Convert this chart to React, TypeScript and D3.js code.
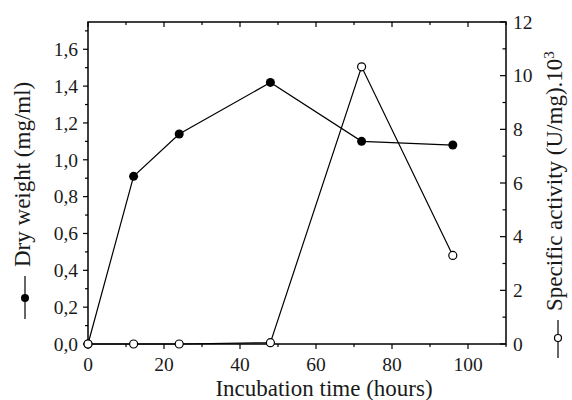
import React from 'react';
import * as d3 from 'd3';

// incubation time (hours)
const hours = [0, 12, 24, 48, 72, 96];
// dry weight (mg/ml), filled markers, left axis
const dryWeight = [0, 0.91, 1.14, 1.42, 1.1, 1.08];
// specific activity (U/mg).10^3, open markers, right axis
const activity = [0, 0, 0, 0.05, 10.33, 3.3];

const xMajor = [0, 20, 40, 60, 80, 100];
const xMinor = [10, 30, 50, 70, 90, 110];
const leftMajor = [0, 0.2, 0.4, 0.6, 0.8, 1.0, 1.2, 1.4, 1.6];
const leftMinor = [0.1, 0.3, 0.5, 0.7, 0.9, 1.1, 1.3, 1.5, 1.7];
const rightMajor = [0, 2, 4, 6, 8, 10, 12];
const rightMinor = [1, 3, 5, 7, 9, 11];

const W = 572;
const H = 400;
const m = { left: 88, right: 66, top: 22, bottom: 56 };

const font = "'Liberation Serif', 'Times New Roman', serif";

export default function App() {
  const x = d3.scaleLinear().domain([0, 110]).range([m.left, W - m.right]);
  const yL = d3.scaleLinear().domain([0, 1.748]).range([H - m.bottom, m.top]);
  const yR = d3.scaleLinear().domain([0, 12]).range([H - m.bottom, m.top]);

  const x0 = m.left;
  const x1 = W - m.right;
  const y0 = H - m.bottom;
  const y1 = m.top;

  const dryPts = hours.map((h, i) => [x(h), yL(dryWeight[i])] as [number, number]);
  const actPts = hours.map((h, i) => [x(h), yR(activity[i])] as [number, number]);
  const line = d3.line();

  const fmt = (v: number) => v.toFixed(1).replace('.', ',');

  return (
    <svg width={W} height={H} style={{ position: 'absolute', left: 0, top: 0, background: '#fff', fontFamily: font }}>
      <g stroke="#000" strokeWidth={1.2}>
        {/* bottom ticks (outward) */}
        {xMajor.map(v => <line key={'bx' + v} x1={x(v)} x2={x(v)} y1={y0} y2={y0 + 5} />)}
        {xMinor.map(v => <line key={'bm' + v} x1={x(v)} x2={x(v)} y1={y0} y2={y0 + 3} />)}
        {/* top ticks (inward) */}
        {xMajor.map(v => <line key={'tx' + v} x1={x(v)} x2={x(v)} y1={y1} y2={y1 + 5} />)}
        {xMinor.map(v => <line key={'tm' + v} x1={x(v)} x2={x(v)} y1={y1} y2={y1 + 3} />)}
        {/* left ticks (outward) */}
        {leftMajor.map(v => <line key={'ly' + v} x1={x0 - 5} x2={x0} y1={yL(v)} y2={yL(v)} />)}
        {leftMinor.map(v => <line key={'lm' + v} x1={x0 - 3} x2={x0} y1={yL(v)} y2={yL(v)} />)}
        {/* right ticks (inward) */}
        {rightMajor.map(v => <line key={'ry' + v} x1={x1 - 6} x2={x1} y1={yR(v)} y2={yR(v)} />)}
        {rightMinor.map(v => <line key={'rm' + v} x1={x1 - 3.5} x2={x1} y1={yR(v)} y2={yR(v)} />)}
      </g>
      <rect x={x0} y={y1} width={x1 - x0} height={y0 - y1} fill="none" stroke="#000" strokeWidth={1.5} />

      <g fill="#1a1a1a" style={{ fontFamily: font, fontSize: 19.5 }}>
        {xMajor.map(v => (
          <text key={'xl' + v} x={x(v)} y={371} textAnchor="middle">{v}</text>
        ))}
        {leftMajor.map(v => (
          <text key={'ll' + v} x={78} y={yL(v)} dy="0.35em" textAnchor="end">{fmt(v)}</text>
        ))}
        {rightMajor.map(v => (
          <text key={'rl' + v} x={513} y={yR(v)} dy="0.35em" textAnchor="start">{v}</text>
        ))}
      </g>

      <g fill="#1a1a1a" style={{ fontFamily: font, fontSize: 23 }}>
        <text x={324} y={396} textAnchor="middle">Incubation time (hours)</text>
        <text transform="translate(30,267) rotate(-90)" textAnchor="start">Dry weight (mg/ml)</text>
        <text transform="translate(562,311) rotate(-90)" textAnchor="start">
          Specific activity (U/mg).10<tspan dy={-8} style={{ fontSize: 15 }}>3</tspan>
        </text>
      </g>
      {/* axis-title legend symbols */}
      <line x1={25} x2={25} y1={276} y2={319} stroke="#000" strokeWidth={1.2} />
      <circle cx={25} cy={298} r={4} fill="#000" />
      <line x1={558} x2={558} y1={320} y2={358} stroke="#000" strokeWidth={1.2} />
      <circle cx={558} cy={338} r={3.5} fill="#fff" stroke="#000" strokeWidth={1.2} />

      <path d={line(dryPts) || ''} fill="none" stroke="#000" strokeWidth={1.2} />
      <path d={line(actPts) || ''} fill="none" stroke="#000" strokeWidth={1.2} />
      {dryPts.map((p, i) => <circle key={'d' + i} cx={p[0]} cy={p[1]} r={4.5} fill="#000" />)}
      {actPts.map((p, i) => (
        <circle key={'a' + i} cx={p[0]} cy={p[1]} r={4} fill="#fff" stroke="#000" strokeWidth={1.2} />
      ))}
    </svg>
  );
}
